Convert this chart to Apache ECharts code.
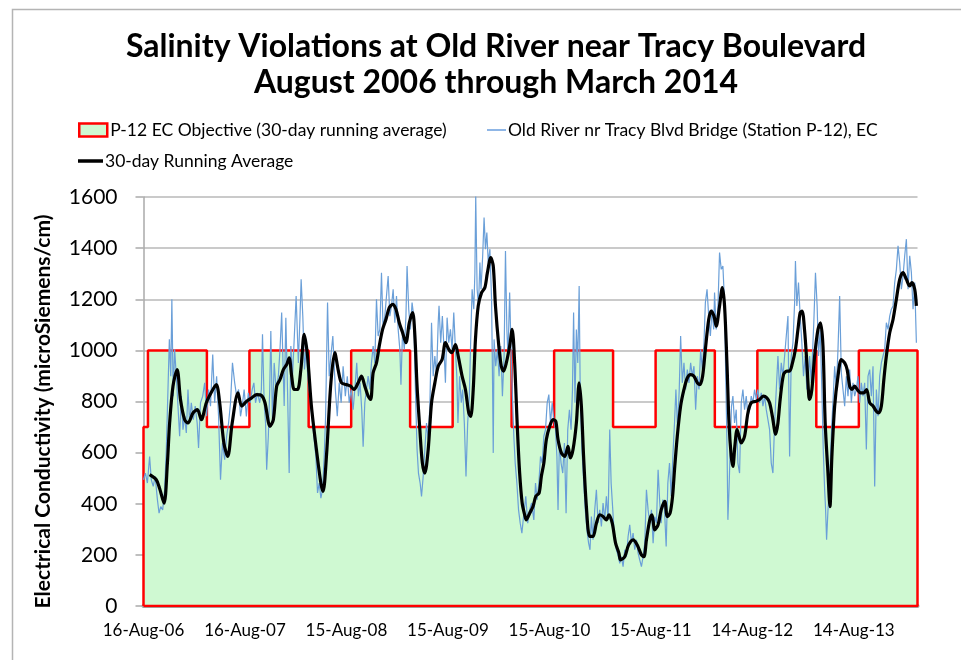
<!DOCTYPE html>
<html><head><meta charset="utf-8">
<script src="https://cdn.jsdelivr.net/npm/echarts@6/dist/echarts.min.js"></script>
<style>html,body{margin:0;padding:0;background:#fff}#c{width:961px;height:660px}</style>
</head><body><div id="c"></div>
<script>
// x values are days counted from 16-Aug-2006
const START_DATE = '2006-08-16';
const xTickLabels = ['16-Aug-06','16-Aug-07','15-Aug-08','15-Aug-09','15-Aug-10','15-Aug-11','14-Aug-12','14-Aug-13'];
const xTickStepDays = 365;
const lastDay = 2784; // 31-Mar-2014

// objective: boundaries (days) and value in each period (April-August 700, September-March 1000)
const objectiveBoundaryDays = [0,16,228,381,594,747,959,1112,1324,1477,1689,1842,2055,2208,2420,2573,2784];
const objectiveValues = [700,1000,700,1000,700,1000,700,1000,700,1000,700,1000,700,1000,700,1000];

// daily EC (sampled)
const blueDays = [0,7,14,22,28,35,42,50,56,62,69,76,82,88,93,98,102,107,112,118,124,130,136,142,148,154,160,166,172,179,186,193,198,205,213,220,227,234,241,249,256,263,270,277,284,292,299,306,313,320,328,335,342,349,
355,362,370,377,384,391,397,403,410,418,424,428,434,439,443,449,454,458,464,470,477,485,491,497,503,506,512,518,524,530,536,542,549,557,563,567,573,579,585,591,598,606,613,620,626,632,638,644,650,655,662,668,674,681,
690,697,704,711,718,726,733,740,747,754,761,767,773,779,785,790,796,802,808,814,820,826,832,838,844,850,856,862,868,874,880,886,892,898,904,910,916,922,926,932,938,944,948,954,960,966,972,978,984,989,995,1000,1006,1012,1018,1024,1030,
1036,1042,1048,1054,1060,1063,1069,1075,1081,1086,1092,1098,1104,1110,1116,1122,1127,1131,1137,1143,1148,1154,1160,1166,1172,1177,1182,1188,1192,1195,1200,1205,1210,1214,1220,1225,1230,1235,1240,1246,1252,1255,1258,1261,1267,1273,1279,1285,1291,1297,1302,1307,1311,1317,1322,1327,1332,1337,1343,1349,1355,1361,1367,
1375,1382,1389,1396,1404,1410,1416,1422,1428,1434,1440,1446,1452,1458,1464,1470,1476,1482,1487,1491,1496,1502,1508,1514,1520,1526,1532,1538,1543,1547,1552,1557,1562,1567,1571,1577,1583,1589,1595,1601,1606,1611,1617,1623,1629,1635,1641,1647,1653,1659,1665,1671,1677,1682,1688,1694,1701,1708,
1713,1719,1725,1731,1737,1743,1749,1755,1761,1767,1773,1779,1785,1791,1797,1803,1809,1815,1821,1827,1833,1839,1845,1851,1857,1862,1868,1874,1880,1886,1892,1898,1904,1910,1915,1921,1927,1932,1938,1944,1950,1956,1962,1968,1974,1980,1986,1992,1998,2004,2010,2016,2021,2027,2033,2039,2045,2051,
2054,2060,2066,2072,2078,2084,2090,2094,2099,2102,2106,2111,2115,2120,2126,2132,2138,2144,2150,2156,2162,2168,2174,2180,2186,2192,2198,2204,2210,2216,2222,2228,2234,2240,2246,2252,2258,2264,2270,2276,2282,2288,2294,2300,2306,2312,2318,2324,2330,2336,2342,2345,2350,2356,2362,2368,2374,2380,2386,2392,
2396,2402,2407,2411,2417,2423,2428,2434,2440,2445,2450,2453,2457,2462,2467,2471,2476,2481,2486,2492,2498,2504,2510,2516,2522,2528,2534,2540,2546,2552,2558,2564,2570,2576,2582,2588,2594,2600,2606,2612,2618,2624,2630,2636,2642,2648,2654,2660,2666,2672,2678,2684,2690,2696,2702,2708,2714,2720,2726,2732,2738,2744,2750,2756,2762,2768,2774,2780];
const blueVals = [494,520,481,585,494,468,507,416,363,389,376,455,612,847,1043,899,1200,821,1004,899,782,664,821,690,742,677,847,716,795,729,782,716,618,795,821,873,742,847,782,984,795,899,742,494,638,572,664,716,795,951,873,821,847,742,
782,847,742,834,795,847,873,795,834,795,847,1063,795,716,533,664,847,1076,716,951,847,899,1004,1148,899,782,1128,847,520,1017,899,1043,1213,951,1134,1278,1134,925,1004,899,821,742,664,585,442,481,422,455,585,742,1187,899,978,1056,
847,742,873,795,938,821,899,795,847,768,860,951,821,873,768,623,795,847,899,847,951,1017,951,1200,1056,1082,1304,1082,1134,1213,1291,1134,1174,1239,1108,1213,1082,1004,866,1082,1004,1134,1330,1161,1082,1187,1134,847,612,520,481,429,507,612,716,651,782,
1108,899,978,899,1108,1174,1030,1134,1004,873,1128,1030,1082,1004,1148,1004,899,716,899,795,847,716,507,716,821,1043,1239,1161,1304,1605,1239,1174,1344,1239,1370,1520,1396,1461,1344,1396,1200,925,599,1043,938,1004,899,1017,821,978,1389,1082,978,1226,1004,821,664,559,481,376,324,285,350,
429,324,376,403,337,481,416,481,585,559,664,690,795,827,716,795,729,690,585,376,638,559,520,638,363,690,768,690,847,1148,795,1082,951,1252,821,612,494,376,298,246,220,350,259,376,455,324,376,311,403,337,429,337,690,481,376,259,220,193,
167,193,154,220,193,272,318,246,285,220,259,207,180,154,193,246,455,376,324,376,246,350,324,533,403,324,416,376,233,481,559,429,585,716,847,690,847,1056,873,951,847,925,873,951,899,938,768,899,847,1004,925,1030,1187,1239,1134,1056,1161,1082,
1226,1082,1161,1383,1317,1330,1187,912,612,337,455,638,782,821,716,768,559,520,795,847,768,821,742,768,821,795,847,808,847,795,834,782,821,768,729,690,559,520,716,847,978,847,951,899,978,1056,1134,585,978,1030,1187,1350,1174,1265,1134,1030,899,978,847,899,
978,873,1004,1108,1304,1174,978,1082,847,612,455,389,259,376,455,585,716,821,938,847,1004,1213,912,847,782,899,821,925,795,873,821,847,899,795,873,821,873,612,899,925,821,938,468,847,742,899,951,978,1004,1108,1082,1134,1161,1174,1265,1317,1409,1344,1239,1291,1370,1435,1239,1370,1304,1161,1265,1030];

// 30-day running average
const avgDays = [22,46,58,74,86,94,106,121,133,148,160,178,194,208,226,246,262,274,289,303,319,340,
353,371,389,407,425,437,455,467,479,491,503,515,524,533,542,554,566,578,590,604,622,638,646,658,674,
688,700,712,730,745,757,772,784,796,808,817,826,838,848,860,872,884,896,908,920,932,944,956,968,976,984,994,1003,1012,
1024,1036,1048,1060,1074,1086,1098,1108,1122,1132,1146,1158,1170,1177,1186,1194,1204,1216,1228,1237,1249,1258,1266,1278,1287,1295,1305,1317,1326,1335,1345,1353,1362,1371,
1377,1389,1401,1411,1423,1431,1440,1449,1461,1473,1483,1491,1503,1515,1527,1535,1545,1557,1567,1575,1583,1593,1605,1617,1629,1641,1653,1665,1674,1686,1698,1710,
1716,1731,1745,1761,1776,1791,1800,1809,1821,1829,1839,1851,1862,1875,1884,1894,1903,1910,1920,1932,1944,1956,1968,1980,1992,2001,2011,2021,2033,2042,2052,
2060,2072,2082,2090,2099,2106,2114,2120,2127,2135,2142,2150,2162,2174,2186,2204,2216,2230,2242,2252,2262,2274,2282,2290,2302,2314,2324,2333,2345,2354,2362,2369,2378,2386,2393,
2396,2404,2414,2426,2435,2444,2452,2462,2469,2476,2486,2498,2510,2522,2531,2540,2548,2558,2567,2579,2591,2601,2612,2624,2636,2644,2654,2663,2672,2684,2696,2708,2720,2732,2744,2756,2764,2774,2780];
const avgVals = [514,494,460,402,560,716,860,925,808,729,716,755,768,729,795,840,866,795,638,585,716,834,
782,801,814,827,823,795,703,729,860,886,925,945,971,899,847,847,925,1063,978,782,612,481,448,585,873,
991,925,873,866,860,847,873,899,860,821,808,912,951,1017,1082,1121,1167,1180,1161,1108,1069,1030,1108,1148,1060,860,690,560,520,
612,795,873,938,964,1030,1004,991,1023,978,899,847,755,742,847,1043,1174,1226,1246,1304,1363,1330,1174,1017,938,919,951,1017,1082,951,690,520,403,357,
337,363,389,429,442,507,559,651,703,729,722,651,599,585,625,579,612,716,873,782,585,389,272,272,324,357,350,337,357,324,246,207,
180,193,239,259,239,200,193,259,337,357,298,318,376,409,350,363,429,533,664,782,847,892,905,899,873,866,899,1004,1121,1154,1134,
1095,1174,1246,1174,938,716,585,546,625,690,664,638,664,755,795,801,808,821,814,795,742,672,716,808,905,919,919,945,1004,1082,1148,1154,1076,951,821,
808,847,978,1082,1108,1017,716,520,389,585,782,899,964,951,925,860,847,860,847,834,834,847,795,782,762,755,782,886,978,1069,1121,1200,1278,1304,1278,1252,1265,1239,1174];

const objName = 'P-12 EC Objective (30-day running average)';
const blueName = 'Old River nr Tracy Blvd Bridge (Station P-12), EC';
const avgName = '30-day Running Average';

const objPoints = [[objectiveBoundaryDays[0], 0]];
for (let i = 0; i < objectiveValues.length; i++) {
  objPoints.push([objectiveBoundaryDays[i], objectiveValues[i]]);
  objPoints.push([objectiveBoundaryDays[i + 1], objectiveValues[i]]);
}
objPoints.push([objectiveBoundaryDays[objectiveBoundaryDays.length - 1], 0]);
objPoints.push([objectiveBoundaryDays[0], 0]);

const blueData = blueDays.map((d, i) => [d, blueVals[i]]);
const avgData = avgDays.map((d, i) => [d, avgVals[i]]);

const FONT = 'Lato, "Open Sans", sans-serif';
const chart = echarts.init(document.getElementById('c'), null, {renderer: 'canvas'});
chart.setOption({
  animation: false,
  backgroundColor: '#ffffff',
  graphic: [
    {type: 'rect', left: 10, top: 7, z: -10, silent: true,
     shape: {x: 0, y: 0, width: 1000, height: 1000},
     style: {fill: 'none', stroke: '#b4b4b4', lineWidth: 1.5}}
  ],
  title: {
    text: 'Salinity Violations at Old River near Tracy Boulevard\nAugust 2006 through March 2014',
    left: 491, top: 24, textAlign: 'center',
    textStyle: {fontFamily: FONT, fontSize: 32, fontWeight: 'bold', color: '#000', lineHeight: 36}
  },
  legend: [
    {left: 78, top: 121, itemWidth: 28, itemHeight: 13, itemGap: 0, selectedMode: false, padding: 0,
     textStyle: {fontFamily: FONT, fontSize: 17.5, color: '#000', padding: [0, 0, 0, -2]},
     data: [{name: objName, icon: 'rect', itemStyle: {color: '#cff9d2', borderColor: '#ff0000', borderWidth: 2.5}}]},
    {left: 487, top: 121, itemWidth: 19, itemHeight: 2, selectedMode: false, padding: 0,
     textStyle: {fontFamily: FONT, fontSize: 17.5, color: '#000', padding: [0, 0, 0, -3]},
     data: [{name: blueName, icon: 'rect', itemStyle: {color: '#8fb6e6'}}]},
    {left: 78, top: 152, itemWidth: 25, itemHeight: 3.5, selectedMode: false, padding: 0,
     textStyle: {fontFamily: FONT, fontSize: 17.5, color: '#000', padding: [0, 0, 0, -3]},
     data: [{name: avgName, icon: 'rect', itemStyle: {color: '#000000'}}]}
  ],
  grid: {left: 143.5, right: 43.5, top: 197, bottom: 54, containLabel: false},
  xAxis: {
    type: 'value', min: 0, max: lastDay, interval: xTickStepDays,
    axisLine: {show: true, onZero: false, lineStyle: {color: '#a3a3a3', width: 4}},
    axisTick: {show: false},
    splitLine: {show: false},
    axisLabel: {
      margin: 16, fontFamily: FONT, fontSize: 17, color: '#000',
      showMaxLabel: false,
      formatter: v => (v % xTickStepDays === 0 ? (xTickLabels[v / xTickStepDays] || '') : '')
    }
  },
  yAxis: {
    type: 'value', min: 0, max: 1600, interval: 200,
    name: 'Electrical Conductivity (microSiemens/cm)',
    nameLocation: 'middle', nameGap: 90, nameRotate: 90,
    nameTextStyle: {fontFamily: FONT, fontSize: 21, fontWeight: 700, color: '#000', padding: [0, 20, 0, 0]},
    axisLine: {show: true, lineStyle: {color: '#aaaaaa', width: 1.5}},
    axisTick: {show: true, length: 8, inside: false, lineStyle: {color: '#aaaaaa', width: 1.5}},
    splitLine: {show: true, lineStyle: {color: '#b8b8b8', width: 1.5}},
    axisLabel: {margin: 26, fontFamily: FONT, fontSize: 21, color: '#000', formatter: v => String(v)}
  },
  series: [
    {name: objName, type: 'line', data: objPoints, symbol: 'none', z: 1,
     lineStyle: {color: '#ff0000', width: 2.5}, itemStyle: {color: '#ff0000'},
     areaStyle: {color: '#cff9d2', opacity: 1, origin: 0}},
    {name: blueName, type: 'line', data: blueData, symbol: 'none', z: 2,
     lineStyle: {color: '#6a9fd8', width: 1.2}, itemStyle: {color: '#6a9fd8'}},
    {name: avgName, type: 'line', data: avgData, symbol: 'none', smooth: 0.3, z: 3,
     lineStyle: {color: '#000000', width: 3.2}, itemStyle: {color: '#000000'}}
  ]
});
</script></body></html>
